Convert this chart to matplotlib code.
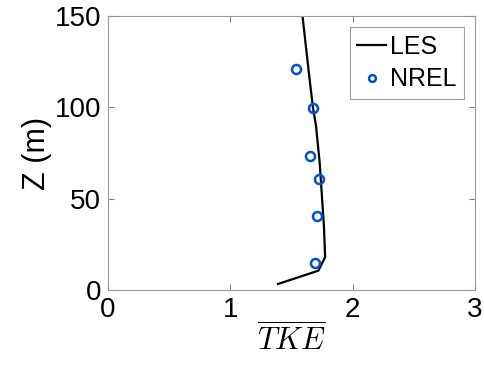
import matplotlib
matplotlib.use('Agg')
import matplotlib.pyplot as plt

plt.rcParams['font.family'] = ['Liberation Sans', 'DejaVu Sans']
plt.rcParams['mathtext.fontset'] = 'cm'

# LES profile
les_tke = [1.39, 1.72, 1.775, 1.765, 1.745, 1.73, 1.70, 1.675, 1.64, 1.59]
les_z = [3.3, 10.6, 18, 35, 55, 70, 90, 100, 120, 150]

# NREL measurements
nrel_tke = [1.69, 1.706, 1.723, 1.652, 1.674, 1.537]
nrel_z = [14.6, 40.7, 60.6, 73.5, 99.8, 120.8]

xticks = [0, 1, 2, 3]
yticks = [0, 50, 100, 150]

fig = plt.figure(figsize=(4.85, 3.72), dpi=100)
ax = fig.add_axes([108/485, 1 - 290/372, 367/485, 274/372])

ax.plot(les_tke, les_z, color='black', lw=1.6, label='LES')
ax.plot(nrel_tke, nrel_z, 'o', mfc='none', mec='#0050d0', mew=1.8, ms=6.5, label='NREL', linestyle='none')

ax.set_xlim(0, 3)
ax.set_ylim(0, 150)
ax.set_xticks(xticks)
ax.set_yticks(yticks)
ax.tick_params(direction='in', top=True, right=True, labelsize=20, color='#808080', length=4, pad=5)
for s in ax.spines.values():
    s.set_color('#999999')
    s.set_linewidth(0.8)

ax.set_xlabel(r'$\overline{TKE}$', fontsize=22, labelpad=0)
ax.set_ylabel('Z (m)', fontsize=22, labelpad=2)

leg = ax.legend(loc='upper right', fontsize=18, frameon=True, fancybox=False,
                edgecolor='#888888', borderpad=0.3, handlelength=1.15,
                handletextpad=0.15, labelspacing=0.35, borderaxespad=0.45,
                markerscale=0.75)
leg.get_frame().set_linewidth(0.8)

fig.savefig('out.png', dpi=100)
